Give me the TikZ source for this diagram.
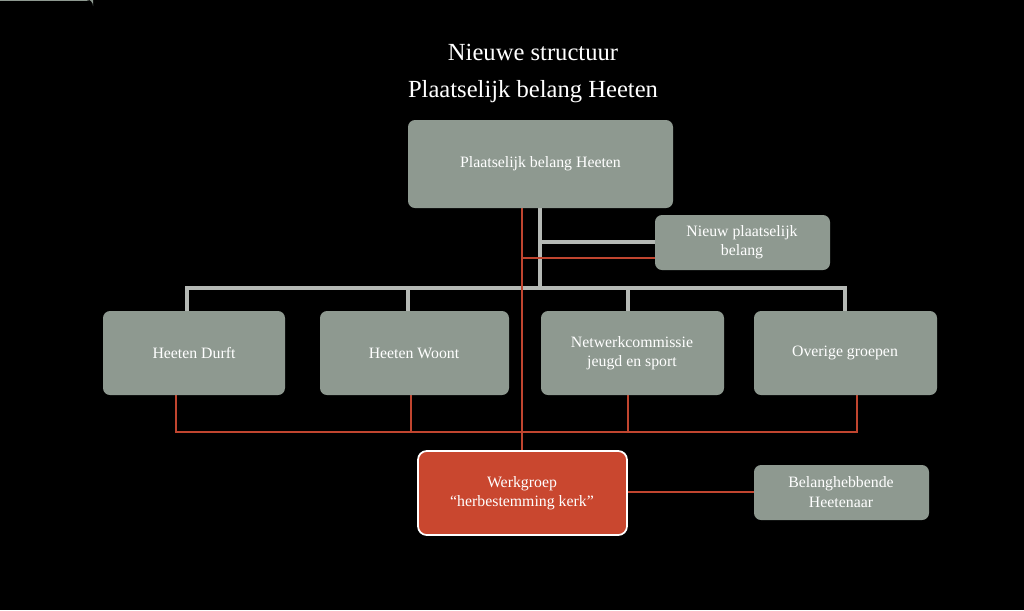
\documentclass[tikz,border=0pt]{standalone}
\usepackage{fontspec}
\setmainfont{Liberation Serif}
\definecolor{boxg}{HTML}{8E9990}
\definecolor{lineg}{HTML}{B5B9B5}
\definecolor{redl}{HTML}{C0452F}
\definecolor{redbox}{HTML}{C9472F}
\begin{document}
\begin{tikzpicture}[x=0.02cm,y=-0.02cm,
  box/.style={fill=boxg,rounded corners=4pt,text=white,align=center,font=\fontsize{9}{11}\selectfont,inner sep=0pt},
  gl/.style={draw=lineg,line width=2pt},
  rl/.style={draw=redl,line width=1.6pt}]
\fill[black] (0,0) rectangle (1024,610);
\useasboundingbox (0,0) rectangle (1024,610);
\node[text=white,font=\fontsize{14}{16}\selectfont] (t1) at (533,52) {Nieuwe structuur};
\node[text=white,font=\fontsize{14}{16}\selectfont] (t2) at (533,92) {Plaatselijk belang Heeten};
% gray lines
\coordinate (g0) at (540,208);
\coordinate (g1) at (540,288);
\coordinate (gl0) at (187,288);
\coordinate (gr0) at (845,288);
\draw[gl] (g0) -- (g1);
\draw[gl] (540,242) -- (655,242);
\draw[gl] (187,311) -- (gl0) -- (gr0) -- (845,311);
\draw[gl] (408,288) -- (408,311);
\draw[gl] (628,288) -- (628,311);
% red lines
\draw[rl] (522,208) -- (522,451);
\draw[rl] (522,258) -- (655,258);
\draw[rl] (176,395) -- (176,432) -- (857,432) -- (857,395);
\draw[rl] (411,395) -- (411,432);
\draw[rl] (628,395) -- (628,432);
\draw[rl] (627,492) -- (754,492);
% boxes
\node[box,minimum width=265\pgflinewidth] (top) at (0,0) {};
\path[box] (408,120) rectangle (673,208);
\node[text=white,font=\fontsize{9}{11}\selectfont] (topt) at (540.5,164) {Plaatselijk belang Heeten};
\path[box] (655,215) rectangle (830,270);
\node[text=white,align=center,font=\fontsize{9}{11}\selectfont] (nieuw) at (742,242) {Nieuw plaatselijk\\belang};
\path[box] (103,311) rectangle (285,395);
\node[text=white,font=\fontsize{9}{11}\selectfont] (hd) at (194,353) {Heeten Durft};
\path[box] (320,311) rectangle (509,395);
\node[text=white,font=\fontsize{9}{11}\selectfont] (hw) at (414,353) {Heeten Woont};
\path[box] (541,311) rectangle (724,395);
\node[text=white,align=center,font=\fontsize{9}{11}\selectfont] (nc) at (632,353) {Netwerkcommissie\\jeugd en sport};
\path[box] (754,311) rectangle (937,395);
\node[text=white,font=\fontsize{9}{11}\selectfont] (og) at (845,353) {Overige groepen};
\path[fill=redbox,draw=white,line width=1pt,rounded corners=5pt] (418,451) rectangle (627,535);
\node[text=white,align=center,font=\fontsize{9}{11}\selectfont] (wg) at (522,493) {Werkgroep\\“herbestemming kerk”};
\path[box] (754,465) rectangle (929,520);
\node[text=white,align=center,font=\fontsize{9}{11}\selectfont] (bh) at (841,492) {Belanghebbende\\Heetenaar};
\end{tikzpicture}
\end{document}
